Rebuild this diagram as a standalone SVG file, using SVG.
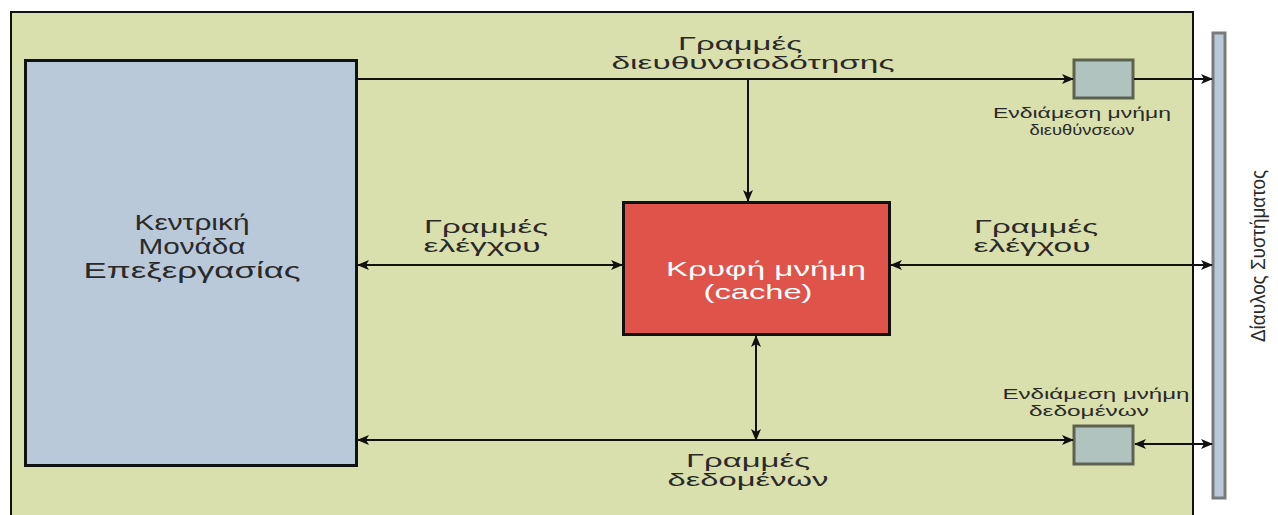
<svg xmlns="http://www.w3.org/2000/svg" width="1278" height="515" viewBox="0 0 1278 515">
<style>
text{font-family:"Liberation Sans",Arial,sans-serif;fill:#2a2a2a;text-anchor:middle}
.lbl{font-size:18px}
.small{font-size:15px}
.conn{stroke:#111;stroke-width:2;fill:none}
</style>
<defs>
<marker id="ah" viewBox="0 0 12 10" refX="11" refY="5" markerWidth="12" markerHeight="10" markerUnits="userSpaceOnUse" orient="auto-start-reverse">
<path d="M0,0 L12,5 L0,10 L3,5 Z" fill="#111"/>
</marker>
</defs>
<rect x="0" y="0" width="1278" height="515" fill="#fff"/>
<g id="frame">
<rect x="11" y="12" width="1182" height="510" fill="#dae0ad" stroke="#111" stroke-width="2"/>
</g>
<g id="cpu">
<rect x="25.5" y="60.5" width="331" height="405" fill="#b9c9d9" stroke="#111" stroke-width="3"/>
<text font-size="22" x="192" y="230" textLength="115" lengthAdjust="spacingAndGlyphs">Κεντρική</text>
<text font-size="22" x="192" y="254" textLength="107" lengthAdjust="spacingAndGlyphs">Μονάδα</text>
<text font-size="22" x="192" y="278" textLength="217" lengthAdjust="spacingAndGlyphs">Επεξεργασίας</text>
</g>
<g id="cache">
<rect x="623.5" y="202.5" width="266" height="132" fill="#e0534a" stroke="#111" stroke-width="3"/>
<text font-size="21" x="766" y="276" style="fill:#fff" textLength="200" lengthAdjust="spacingAndGlyphs">Κρυφή μνήμη</text>
<text font-size="21" x="758" y="299" style="fill:#fff" textLength="109" lengthAdjust="spacingAndGlyphs">(cache)</text>
</g>
<g id="addrbuf">
<rect x="1074" y="60" width="59" height="38" fill="#b1c3bf" stroke="#5d6250" stroke-width="3"/>
<text class="small" x="1082" y="118" textLength="178" lengthAdjust="spacingAndGlyphs">Ενδιάμεση μνήμη</text>
<text class="small" x="1082" y="135" textLength="105" lengthAdjust="spacingAndGlyphs">διευθύνσεων</text>
</g>
<g id="databuf">
<rect x="1074" y="426" width="59" height="38" fill="#b1c3bf" stroke="#5d6250" stroke-width="3"/>
<text class="small" x="1096" y="399" textLength="187" lengthAdjust="spacingAndGlyphs">Ενδιάμεση μνήμη</text>
<text class="small" x="1089" y="416" textLength="120" lengthAdjust="spacingAndGlyphs">δεδομένων</text>
</g>
<g id="bus">
<rect x="1213" y="33" width="12" height="465" fill="#b9c9d9" stroke="#7a7a7a" stroke-width="3"/>
<text font-size="21" transform="translate(1265,256) rotate(-90)" textLength="172" lengthAdjust="spacingAndGlyphs">Δίαυλος Συστήματος</text>
</g>
<g id="connectors">
<line class="conn" x1="355" y1="79" x2="1073" y2="79" marker-end="url(#ah)"/>
<line class="conn" x1="1134" y1="79" x2="1212" y2="79" marker-end="url(#ah)"/>
<line class="conn" x1="748" y1="79" x2="748" y2="201" marker-end="url(#ah)"/>
<line class="conn" x1="358" y1="265" x2="622" y2="265" marker-start="url(#ah)" marker-end="url(#ah)"/>
<line class="conn" x1="891" y1="265" x2="1212" y2="265" marker-start="url(#ah)" marker-end="url(#ah)"/>
<line class="conn" x1="756" y1="336" x2="756" y2="440" marker-start="url(#ah)" marker-end="url(#ah)"/>
<line class="conn" x1="358" y1="440" x2="1073" y2="440" marker-start="url(#ah)" marker-end="url(#ah)"/>
<line class="conn" x1="1135" y1="444" x2="1212" y2="444" marker-start="url(#ah)" marker-end="url(#ah)"/>
<text class="lbl" x="740" y="50" textLength="124" lengthAdjust="spacingAndGlyphs">Γραμμές</text>
<text class="lbl" x="753" y="69" textLength="283" lengthAdjust="spacingAndGlyphs">διευθυνσιοδότησης</text>
<text class="lbl" x="486" y="233" textLength="124" lengthAdjust="spacingAndGlyphs">Γραμμές</text>
<text class="lbl" x="482" y="252" textLength="117" lengthAdjust="spacingAndGlyphs">ελέγχου</text>
<text class="lbl" x="1036" y="233" textLength="124" lengthAdjust="spacingAndGlyphs">Γραμμές</text>
<text class="lbl" x="1032" y="252" textLength="117" lengthAdjust="spacingAndGlyphs">ελέγχου</text>
<text class="lbl" x="748" y="467" textLength="124" lengthAdjust="spacingAndGlyphs">Γραμμές</text>
<text class="lbl" x="748" y="486" textLength="161" lengthAdjust="spacingAndGlyphs">δεδομένων</text>
</g>
</svg>
